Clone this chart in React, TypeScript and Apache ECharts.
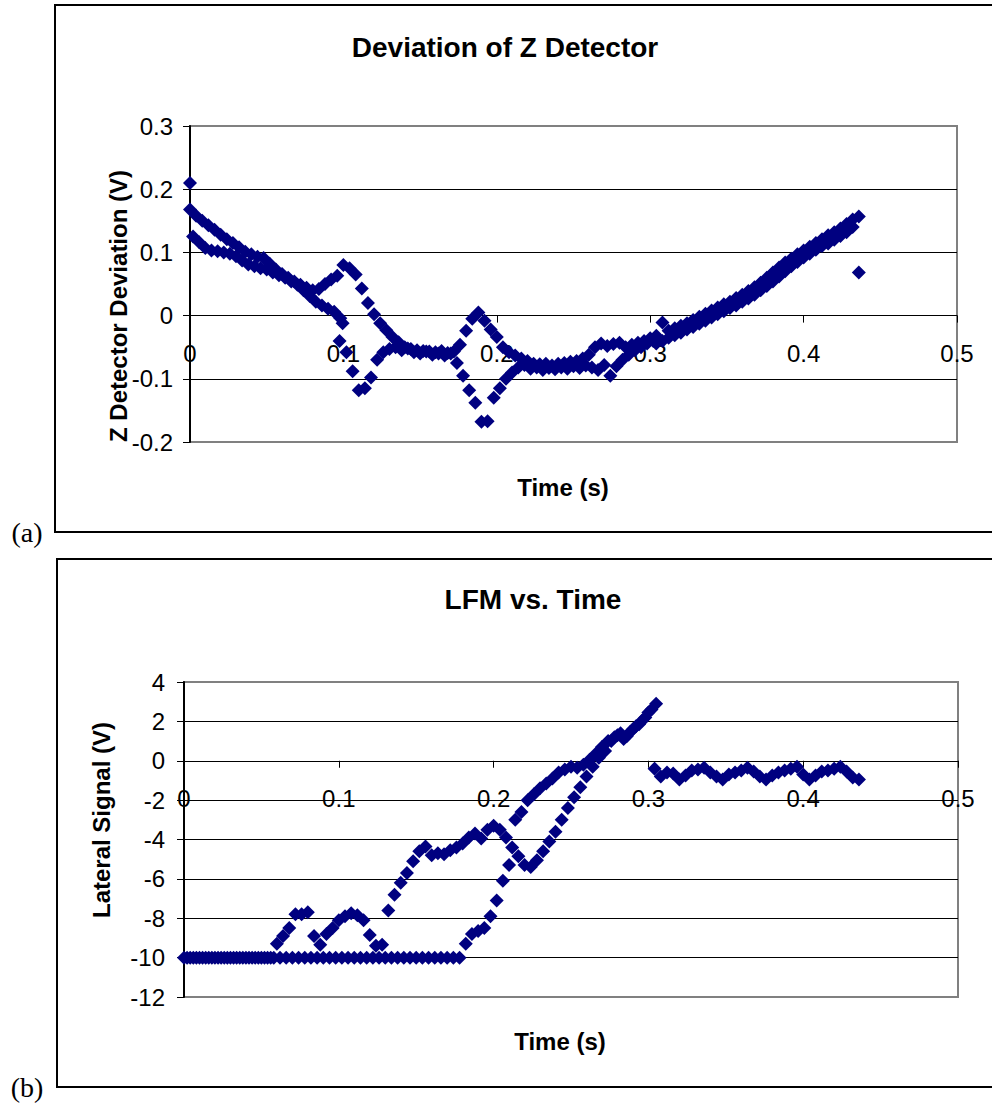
import React, { useEffect, useRef } from "react";
import * as echarts from "echarts";

// Sample times (s) of the first traced branch of each measurement
const T_MAIN = [
  0, 0.004, 0.008, 0.012, 0.016, 0.02, 0.024, 0.028, 0.032, 0.036,
  0.04, 0.044, 0.048, 0.052, 0.056, 0.06, 0.064, 0.068, 0.072, 0.076,
  0.08, 0.084, 0.088, 0.092, 0.096, 0.1, 0.104, 0.108, 0.112, 0.116,
  0.12, 0.124, 0.128, 0.132, 0.136, 0.14, 0.144, 0.148, 0.152, 0.156,
  0.16, 0.164, 0.168, 0.172, 0.176, 0.18, 0.184, 0.188, 0.192, 0.196,
  0.2, 0.204, 0.208, 0.212, 0.216, 0.22, 0.224, 0.228, 0.232, 0.236,
  0.24, 0.244, 0.248, 0.252, 0.256, 0.26, 0.264, 0.268, 0.272, 0.276,
  0.28, 0.284, 0.288, 0.292, 0.296, 0.3,
];

// Sample times (s) of the second branch, interleaved with the first
const T_MAIN_B = [
  0.002, 0.006, 0.01, 0.014, 0.018, 0.022, 0.026, 0.03, 0.034, 0.038,
  0.042, 0.046, 0.05, 0.054, 0.058, 0.062, 0.066, 0.07, 0.074, 0.078,
  0.082, 0.086, 0.09, 0.094, 0.098, 0.102, 0.106, 0.11, 0.114, 0.118,
  0.122, 0.126, 0.13, 0.134, 0.138, 0.142, 0.146, 0.15, 0.154, 0.158,
  0.162, 0.166, 0.17, 0.174, 0.178, 0.182, 0.186, 0.19, 0.194, 0.198,
  0.202, 0.206, 0.21, 0.214, 0.218, 0.222, 0.226, 0.23, 0.234, 0.238,
  0.242, 0.246, 0.25, 0.254, 0.258, 0.262, 0.266, 0.27, 0.274, 0.278,
  0.282, 0.286, 0.29, 0.294, 0.298, 0.302,
];

// Sample times (s) after the branches join
const T_TAIL = [
  0.304, 0.308, 0.312, 0.316, 0.32, 0.324, 0.328, 0.332, 0.336, 0.34,
  0.344, 0.348, 0.352, 0.356, 0.36, 0.364, 0.368, 0.372, 0.376, 0.38,
  0.384, 0.388, 0.392, 0.396, 0.4, 0.404, 0.408, 0.412, 0.416, 0.42,
  0.424, 0.428, 0.432, 0.436,
];

// Z detector deviation (V)
const Z_UPPER = [
  0.168, 0.158, 0.15, 0.143, 0.136, 0.128, 0.121, 0.115, 0.108, 0.101,
  0.097, 0.093, 0.091, 0.082, 0.073, 0.066, 0.06, 0.054, 0.049, 0.044,
  0.04, 0.042, 0.05, 0.057, 0.063, 0.08, 0.075, 0.065, 0.043, 0.02,
  0.002, -0.012, -0.023, -0.034, -0.042, -0.05, -0.053, -0.055, -0.056, -0.057,
  -0.058, -0.056, -0.059, -0.057, -0.046, -0.024, -0.005, 0.005, -0.008, -0.022,
  -0.034, -0.05, -0.058, -0.063, -0.068, -0.072, -0.076, -0.077, -0.076, -0.079,
  -0.076, -0.075, -0.073, -0.072, -0.068, -0.062, -0.05, -0.044, -0.048, -0.045,
  -0.043, -0.05, -0.046, -0.043, -0.04, -0.036,
];
const Z_LOWER = [
  0.125, 0.116, 0.107, 0.103, 0.102, 0.1, 0.098, 0.094, 0.087, 0.081,
  0.078, 0.075, 0.073, 0.068, 0.064, 0.06, 0.054, 0.049, 0.04, 0.031,
  0.022, 0.016, 0.011, 0.006, -0.004, -0.058, -0.088, -0.118, -0.115, -0.098,
  -0.07, -0.058, -0.053, -0.05, -0.055, -0.052, -0.058, -0.06, -0.057, -0.062,
  -0.06, -0.063, -0.06, -0.075, -0.095, -0.118, -0.138, -0.168, -0.167, -0.13,
  -0.115, -0.1, -0.09, -0.082, -0.078, -0.084, -0.082, -0.086, -0.083, -0.085,
  -0.082, -0.084, -0.08, -0.083, -0.079, -0.082, -0.086, -0.078, -0.095, -0.08,
  -0.07, -0.062, -0.055, -0.05, -0.044, -0.04,
];
const Z_TAIL_A = [
  -0.032, -0.011, -0.024, -0.02, -0.016, -0.012, -0.007, -0.002, 0.003, 0.008,
  0.013, 0.018, 0.022, 0.028, 0.033, 0.039, 0.045, 0.052, 0.06, 0.068,
  0.076, 0.084, 0.09, 0.097, 0.103, 0.109, 0.115, 0.121, 0.127, 0.132,
  0.138, 0.145, 0.152, 0.157,
];
const Z_TAIL_B = [
  -0.044, -0.04, -0.035, -0.031, -0.027, -0.022, -0.018, -0.013, -0.008, -0.003,
  0.002, 0.007, 0.012, 0.016, 0.022, 0.027, 0.033, 0.04, 0.047, 0.054,
  0.062, 0.07, 0.078, 0.085, 0.092, 0.098, 0.104, 0.11, 0.114, 0.12,
  0.126, 0.132, 0.14, 0.068,
];
// Isolated Z samples off the two branches
const Z_EXTRA_T = [0, 0.0975, 0.0995];
const Z_EXTRA_V = [0.21, -0.04, -0.012];

// Lateral (LFM) signal (V)
const L_UPPER = [
  -10, -10, -10, -10, -10, -10, -10, -10, -10, -10,
  -10, -10, -10, -10, -10, -9.3, -8.9, -8.5, -7.8, -7.8,
  -7.7, -8.9, -9.35, -8.8, -8.5, -8.1, -7.9, -7.75, -7.85, -8.1,
  -8.85, -9.4, -9.35, -7.6, -6.8, -6.2, -5.7, -5.1, -4.6, -4.35,
  -4.8, -4.7, -4.75, -4.55, -4.4, -4.2, -3.9, -3.7, -3.95, -3.5,
  -3.3, -3.5, -3.9, -4.4, -4.85, -5.3, -5.4, -5.05, -4.6, -4.1,
  -3.6, -3.0, -2.4, -1.85, -1.35, -0.8, -0.3, 0.15, 0.5, 1.0,
  1.3, 1.1, 1.45, 1.75, 2.05, 2.45,
];
const L_LOWER = [
  -10, -10, -10, -10, -10, -10, -10, -10, -10, -10,
  -10, -10, -10, -10, -10, -10, -10, -10, -10, -10,
  -10, -10, -10, -10, -10, -10, -10, -10, -10, -10,
  -10, -10, -10, -10, -10, -10, -10, -10, -10, -10,
  -10, -10, -10, -10, -10, -9.3, -8.8, -8.65, -8.5, -7.9,
  -7.1, -6.1, -5.3, -3.0, -2.6, -2.0, -1.7, -1.4, -1.15, -0.9,
  -0.6, -0.45, -0.3, -0.35, -0.2, 0.05, 0.35, 0.7, 1.0, 1.2,
  1.4, 1.25, 1.6, 1.85, 2.2, 2.6,
];
const L_TAIL = [
  -0.4, -0.8, -0.6, -0.65, -0.95, -0.75, -0.5, -0.45, -0.35, -0.6,
  -0.8, -0.95, -0.7, -0.6, -0.5, -0.35, -0.55, -0.8, -0.95, -0.75,
  -0.6, -0.5, -0.4, -0.3, -0.7, -0.95, -0.75, -0.55, -0.5, -0.4,
  -0.3, -0.55, -0.85, -0.95,
];
const L_EXTRA_T = [0.305];
const L_EXTRA_V = [2.9];

const X_TICKS = [0, 0.1, 0.2, 0.3, 0.4, 0.5];

const SANS = "Liberation Sans, Arial, sans-serif";
const SERIF = "Liberation Serif, Times New Roman, serif";
const NAVY = "#000080";

const zip = (ts: number[], vs: number[]) => ts.map((t, i) => [t, vs[i]]);

// Plot rectangles of the two panels
const GRID_A = { left: 190, top: 126, width: 767, height: 316 };
const GRID_B = { left: 184, top: 682, width: 774, height: 315 };

// The time axis sits on the zero line of the value axis, with its labels just below it
function xAxisFor(gridIndex: number, plotHeight: number, yMin: number, yMax: number) {
  const zeroFromBottom = (plotHeight * (0 - yMin)) / (yMax - yMin);
  return {
    gridIndex,
    type: "value",
    min: X_TICKS[0],
    max: X_TICKS[X_TICKS.length - 1],
    interval: 0.1,
    offset: -zeroFromBottom,
    axisLine: { show: true, onZero: false, lineStyle: { color: "#000", width: 1 } },
    axisTick: { show: true, length: 7, lineStyle: { color: "#000", width: 1 } },
    axisLabel: { color: "#000", fontSize: 24, fontFamily: SANS, margin: 26 },
    splitLine: { show: false },
  };
}

function yAxisFor(gridIndex: number, min: number, max: number, interval: number, margin: number) {
  return {
    gridIndex,
    type: "value",
    min,
    max,
    interval,
    axisLine: { show: true, onZero: false, lineStyle: { color: "#000", width: 2 } },
    axisTick: { show: true, length: 7, lineStyle: { color: "#000", width: 1 } },
    axisLabel: { color: "#000", fontSize: 24, fontFamily: SANS, margin },
    splitLine: {
      show: true,
      showMinLine: false,
      showMaxLine: false,
      lineStyle: { color: "#000", width: 1 },
    },
  };
}

function scatter(axisIndex: number, data: number[][]) {
  return {
    type: "scatter",
    xAxisIndex: axisIndex,
    yAxisIndex: axisIndex,
    symbol: "diamond",
    symbolSize: 14,
    itemStyle: { color: NAVY, opacity: 1 },
    emphasis: { disabled: true },
    data,
  };
}

function label(text: string, x: number, y: number, font: string, rotation = 0) {
  return {
    type: "text",
    x,
    y,
    rotation,
    style: {
      text,
      font,
      fill: "#000",
      align: "center",
      verticalAlign: "middle",
      textAlign: "center",
      textVerticalAlign: "middle",
    },
  };
}

export default function App() {
  const ref = useRef<HTMLDivElement>(null);

  useEffect(() => {
    if (!ref.current) return;
    const chart = echarts.init(ref.current, undefined, { renderer: "svg" });

    const zData = [
      ...zip(T_MAIN, Z_UPPER),
      ...zip(T_MAIN_B, Z_LOWER),
      ...zip(T_TAIL, Z_TAIL_A),
      ...zip(T_TAIL, Z_TAIL_B),
      ...zip(Z_EXTRA_T, Z_EXTRA_V),
    ];
    const lData = [
      ...zip(T_MAIN, L_UPPER),
      ...zip(T_MAIN_B, L_LOWER),
      ...zip(T_TAIL, L_TAIL),
      ...zip(L_EXTRA_T, L_EXTRA_V),
    ];

    const titleStyle = { fontSize: 28, fontWeight: "bold", color: "#000", fontFamily: SANS };

    chart.setOption({
      animation: false,
      backgroundColor: "#fff",
      title: [
        { text: "Deviation of Z Detector", left: 500, top: 28, textAlign: "center", textStyle: titleStyle },
        { text: "LFM vs. Time", left: 528, top: 580, textAlign: "center", textStyle: titleStyle },
      ],
      grid: [
        { ...GRID_A, show: true, borderColor: "#808080", borderWidth: 2, backgroundColor: "transparent" },
        { ...GRID_B, show: true, borderColor: "#808080", borderWidth: 2, backgroundColor: "transparent" },
      ],
      xAxis: [xAxisFor(0, GRID_A.height, -0.2, 0.3), xAxisFor(1, GRID_B.height, -12, 4)],
      yAxis: [yAxisFor(0, -0.2, 0.3, 0.1, 17), yAxisFor(1, -12, 4, 2, 19)],
      series: [scatter(0, zData), scatter(1, lData)],
      graphic: [
        { type: "rect", z: -10, shape: { x: 55, y: 5, width: 1000, height: 527 }, style: { fill: "none", stroke: "#000", lineWidth: 2 } },
        { type: "rect", z: -10, shape: { x: 57, y: 559, width: 1000, height: 528 }, style: { fill: "none", stroke: "#000", lineWidth: 2 } },
        label("(a)", 27, 532, `28px ${SERIF}`),
        label("(b)", 27, 1087, `28px ${SERIF}`),
        label("Z Detector Deviation (V)", 118, 306, `bold 24px ${SANS}`, Math.PI / 2),
        label("Lateral Signal (V)", 101, 820, `bold 24px ${SANS}`, Math.PI / 2),
        label("Time (s)", 563, 487, `bold 24px ${SANS}`),
        label("Time (s)", 560, 1041, `bold 24px ${SANS}`),
      ],
    });

    return () => chart.dispose();
  }, []);

  return (
    <div
      ref={ref}
      style={{ position: "absolute", left: 0, top: 0, width: 992, height: 1104 }}
    />
  );
}
